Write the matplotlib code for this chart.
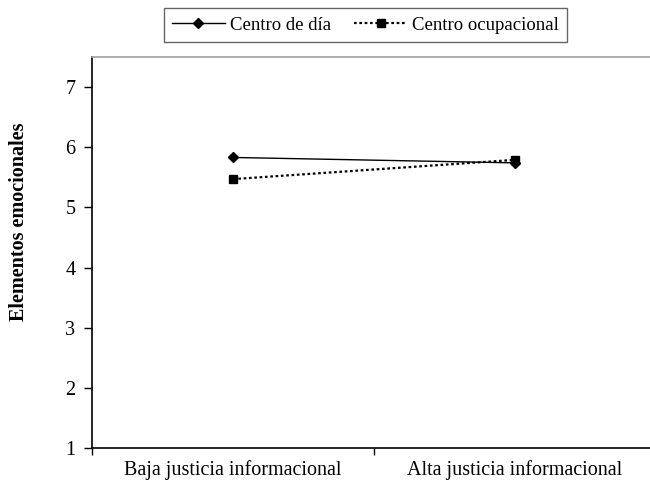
import matplotlib
matplotlib.use("Agg")
import matplotlib.pyplot as plt
from matplotlib.ticker import FixedLocator, NullFormatter

categorias = ["Baja justicia informacional", "Alta justicia informacional"]
centro_dia = [5.83, 5.74]
centro_ocupacional = [5.47, 5.79]
y_ticks = [1, 2, 3, 4, 5, 6, 7]

plt.rcParams['font.family'] = ['Liberation Serif', 'DejaVu Serif']

fig = plt.figure(figsize=(6.5, 4.88), dpi=100)
ax = fig.add_axes([92 / 650, 1 - 448 / 488, 564 / 650, 391 / 488])

x = [0.5, 1.5]
ax.plot(x, centro_dia, color='black', lw=1.0, marker='D', markersize=5.5,
        label='Centro de día')
ax.plot(x, centro_ocupacional, color='black', lw=1.6, linestyle=(0, (1.2, 1.2)),
        marker='s', markersize=6, label='Centro ocupacional')

ax.set_xlim(0, 2)
ax.set_ylim(1, 7.5)
ax.set_yticks(y_ticks)
ax.tick_params(axis='y', direction='out', length=6, width=1, labelsize=14.5, pad=6)

# separadores de categoria (ticks mayores) y etiquetas centradas (ticks menores)
ax.xaxis.set_major_locator(FixedLocator([0, 1, 2]))
ax.xaxis.set_major_formatter(NullFormatter())
ax.xaxis.set_minor_locator(FixedLocator(x))
ax.set_xticklabels(categorias, minor=True)
ax.tick_params(axis='x', which='major', direction='out', length=5, width=1)
ax.tick_params(axis='x', which='minor', length=0, labelsize=14.5, pad=9)

ax.spines['left'].set_linewidth(1.2)
ax.spines['bottom'].set_linewidth(1.2)
ax.spines['top'].set_color('#a0a0a0')
ax.spines['top'].set_linewidth(1.2)
ax.spines['right'].set_visible(False)

ax.set_ylabel('Elementos emocionales', fontsize=14.5, fontweight='bold')
ax.yaxis.set_label_coords(-0.112, 0.578)

leg = fig.legend(loc='center', bbox_to_anchor=(365.5 / 650, 1 - 25 / 488), ncol=2,
                 frameon=True, fancybox=False, edgecolor='#404040', fontsize=13.5,
                 handlelength=2.8, handletextpad=0.27, columnspacing=1.25,
                 borderpad=0.45, borderaxespad=0)
leg.get_frame().set_linewidth(1.0)

fig.savefig('out.png', dpi=100)
